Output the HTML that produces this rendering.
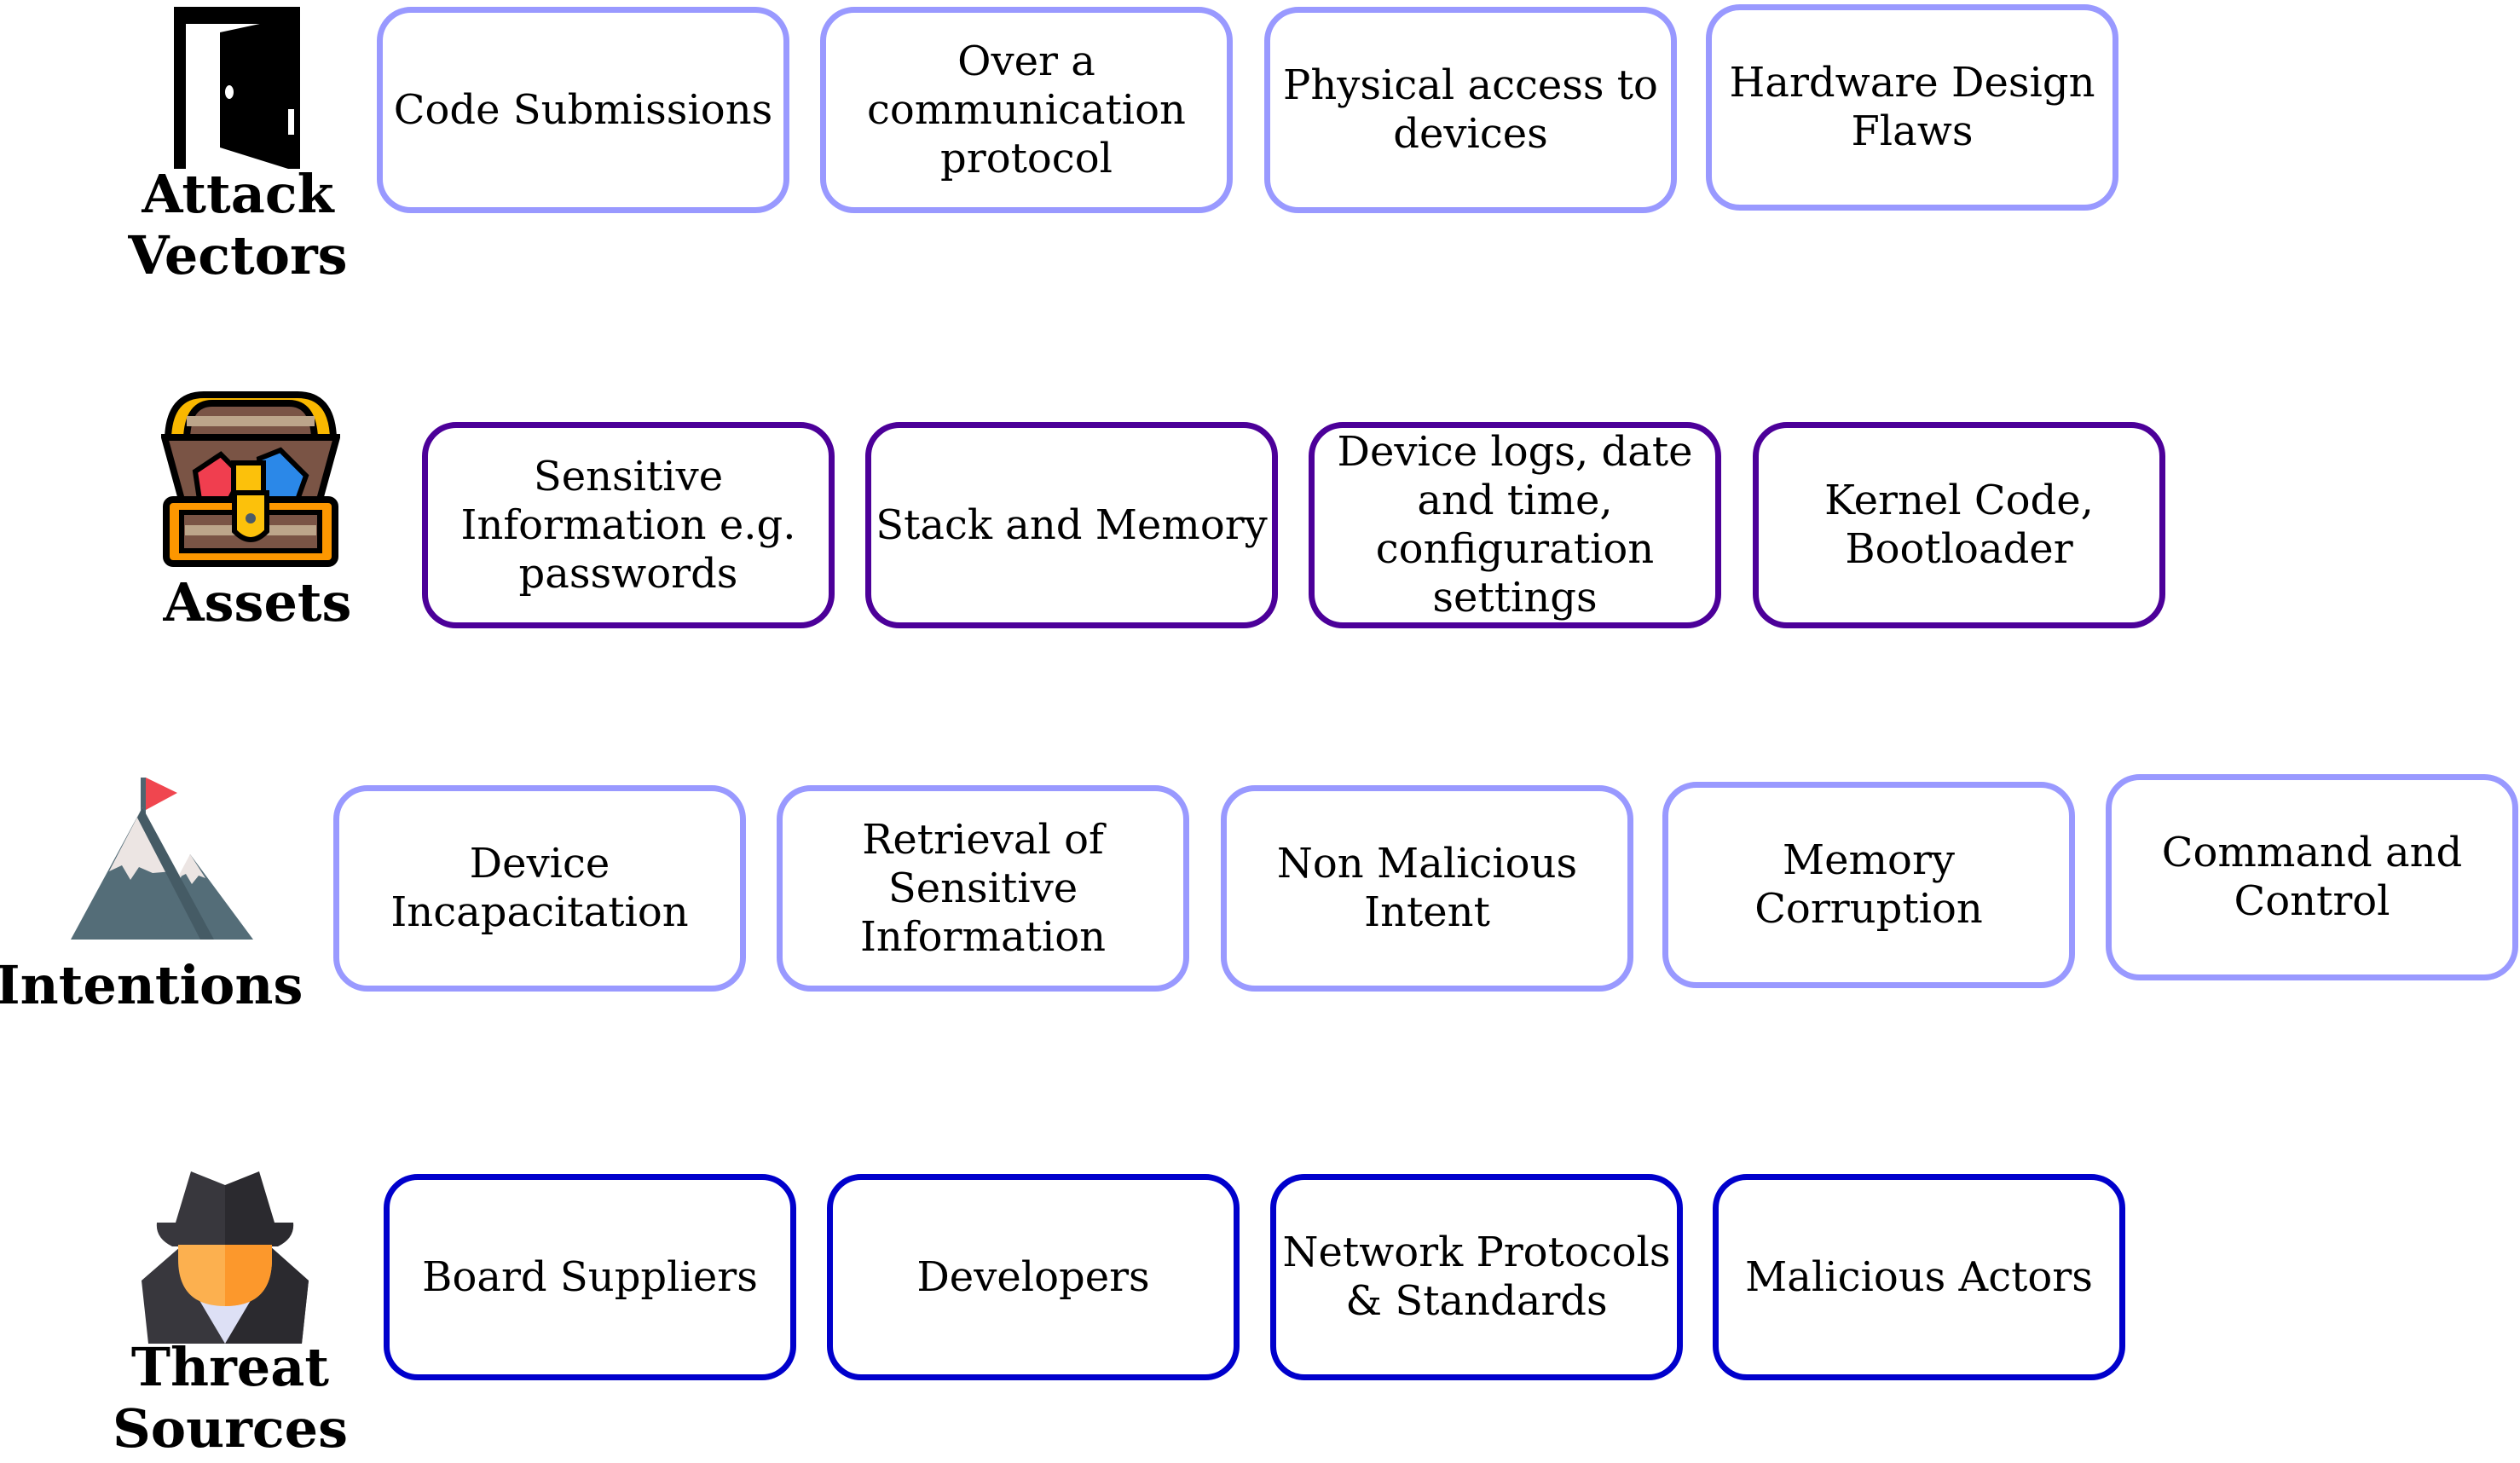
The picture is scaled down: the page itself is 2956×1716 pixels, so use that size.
<!DOCTYPE html>
<html><head><meta charset="utf-8"><style>
html,body{margin:0;padding:0;background:#fff;}
body{width:2956px;height:1716px;position:relative;overflow:hidden;font-family:"DejaVu Serif","Liberation Serif",serif;}
.b{position:absolute;box-sizing:border-box;width:484px;height:242px;border:7px solid;border-radius:40px;display:flex;align-items:center;justify-content:center;text-align:center;font-size:48px;line-height:57px;color:#000;background:#fff;}
.l{border-color:#9999ff}.p{border-color:#4c0099}.u{border-color:#0000cc}
.t{position:absolute;font-weight:bold;font-size:62px;line-height:72px;text-align:center;color:#000;}
svg{position:absolute}
</style></head><body>

<div class="b l" style="left:442px;top:8px">Code Submissions</div>
<div class="b l" style="left:962px;top:8px">Over a<br>communication<br>protocol</div>
<div class="b l" style="left:1483px;top:8px">Physical access to<br>devices</div>
<div class="b l" style="left:2001px;top:5px">Hardware Design<br>Flaws</div>

<div class="b p" style="left:495px;top:495px">Sensitive<br>Information e.g.<br>passwords</div>
<div class="b p" style="left:1015px;top:495px">Stack and Memory</div>
<div class="b p" style="left:1535px;top:495px">Device logs, date<br>and time,<br>configuration<br>settings</div>
<div class="b p" style="left:2056px;top:495px">Kernel Code,<br>Bootloader</div>

<div class="b l" style="left:391px;top:921px">Device<br>Incapacitation</div>
<div class="b l" style="left:911px;top:921px">Retrieval of<br>Sensitive<br>Information</div>
<div class="b l" style="left:1432px;top:921px">Non Malicious<br>Intent</div>
<div class="b l" style="left:1950px;top:917px">Memory<br>Corruption</div>
<div class="b l" style="left:2470px;top:908px">Command and<br>Control</div>

<div class="b u" style="left:450px;top:1377px">Board Suppliers</div>
<div class="b u" style="left:970px;top:1377px">Developers</div>
<div class="b u" style="left:1490px;top:1377px">Network Protocols<br>&amp; Standards</div>
<div class="b u" style="left:2009px;top:1377px">Malicious Actors</div>

<div class="t" style="left:129px;top:192px;width:300px">Attack<br>Vectors</div>
<div class="t" style="left:152px;top:671px;width:300px">Assets</div>
<div class="t" style="left:-10px;top:1120px;width:370px">Intentions</div>
<div class="t" style="left:120px;top:1568px;width:300px">Threat<br>Sources</div>

<!-- door -->
<svg style="left:204px;top:8px" width="148" height="190" viewBox="0 0 148 190">
<path d="M0 0H148V190H134V150H141V120H134V20H14V190H0Z" fill="#000"/>
<rect x="134" y="28" width="7" height="20" fill="#000"/>
<polygon points="54,30 110,18 134,18 134,190 54,165" fill="#000"/>
<ellipse cx="65" cy="100" rx="5" ry="8" fill="#fff"/>
</svg>

<!-- chest -->
<svg style="left:189px;top:458px" width="210" height="208" viewBox="0 0 210 208">
<path d="M8 55 Q10 5 50 5 H160 Q200 5 202 55 Z" fill="#f9b800" stroke="#000" stroke-width="8"/>
<path d="M30 55 Q32 15 60 15 H150 Q178 15 180 55Z" fill="#7a5445" stroke="#000" stroke-width="8"/>
<rect x="30" y="30" width="150" height="12" fill="#bca58a"/>
<path d="M4 55 H206 L186 128 H24 Z" fill="#7a5445" stroke="#000" stroke-width="8"/>
<polygon points="40,95 70,75 95,100 80,128 45,128" fill="#f03e4f" stroke="#000" stroke-width="6"/>
<polygon points="115,80 140,70 170,100 160,128 120,128" fill="#2b88e8" stroke="#000" stroke-width="6"/>
<rect x="85" y="85" width="35" height="43" fill="#fcc10b" stroke="#000" stroke-width="6"/>
<rect x="6" y="128" width="198" height="75" rx="8" fill="#fc9700" stroke="#000" stroke-width="8"/>
<rect x="24" y="143" width="162" height="45" fill="#7a5445" stroke="#000" stroke-width="6"/>
<rect x="28" y="158" width="154" height="12" fill="#bca58a"/>
<path d="M86 120 H124 V165 Q105 185 86 165Z" fill="#fcc10b" stroke="#000" stroke-width="6"/>
<circle cx="105" cy="150" r="6" fill="#4b5a68"/>
</svg>

<!-- mountain -->
<svg style="left:83px;top:912px" width="214" height="190" viewBox="0 0 214 190">
<rect x="82" y="0" width="6" height="60" fill="#4f6570"/>
<polygon points="88,0 125,18 88,38" fill="#f0464f"/>
<polygon points="0,190 84,35 168,190" fill="#546d78"/>
<polygon points="100,190 140,90 214,190" fill="#546d78"/>
<polygon points="84,35 45,110 60,103 70,120 80,105 96,112 120,110" fill="#ece5e3"/>
<polygon points="140,90 125,118 135,113 142,125 150,115 158,118" fill="#ece5e3"/>
<polygon points="84,35 168,190 152,190 78,47" fill="#455b65"/>
</svg>

<!-- spy -->
<svg style="left:162px;top:1372px" width="204" height="204" viewBox="0 0 204 204">
<polygon points="12,204 192,204 200,130 155,90 50,90 4,130" fill="#38373d"/>
<polygon points="102,204 192,204 200,130 155,90 102,90" fill="#2b2a2f"/>
<polygon points="70,150 102,204 134,150" fill="#dde0f5"/>
<path d="M44 62 L62 2 L102 18 L102 90 L40 90 Q20 80 22 62Z" fill="#38373d"/>
<path d="M160 62 L142 2 L102 18 L102 90 L164 90 Q184 80 182 62Z" fill="#2b2a2f"/>
<path d="M47 88 H157 V105 Q157 160 102 160 Q47 160 47 105Z" fill="#fcb04f"/>
<path d="M102 88 H157 V105 Q157 160 102 160Z" fill="#fc982c"/>
</svg>

</body></html>
